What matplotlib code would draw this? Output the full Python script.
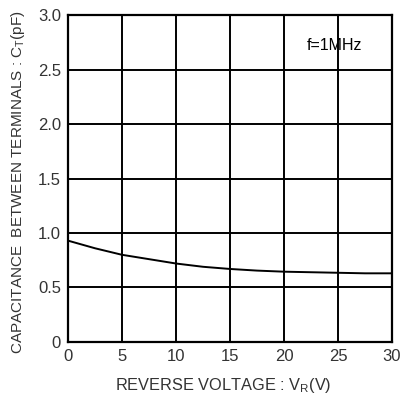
import matplotlib.pyplot as plt

# Datos
voltaje = [0, 2.5, 5, 7.5, 10, 12.5, 15, 17.5, 20, 22.5, 25, 27.5, 30]
capacitancia = [0.93, 0.86, 0.80, 0.76, 0.72, 0.69, 0.67, 0.655, 0.645, 0.64, 0.635, 0.63, 0.63]

x_ticks = [0, 5, 10, 15, 20, 25, 30]
x_labels = ["0", "5", "10", "15", "20", "25", "30"]
y_ticks = [0, 0.5, 1.0, 1.5, 2.0, 2.5, 3.0]
y_labels = ["0", "0.5", "1.0", "1.5", "2.0", "2.5", "3.0"]

plt.rcParams['font.family'] = ['Liberation Sans', 'DejaVu Sans']
color_texto = '#333333'

fig = plt.figure(figsize=(4, 3.99), dpi=100)
ax = fig.add_axes([0.17, 0.143, 0.81, 0.819])

ax.plot(voltaje, capacitancia, color='black', linewidth=1.4)

ax.set_xlim(0, 30)
ax.set_ylim(0, 3.0)
ax.set_xticks(x_ticks)
ax.set_xticklabels(x_labels)
ax.set_yticks(y_ticks)
ax.set_yticklabels(y_labels)
ax.tick_params(length=0, labelsize=12, labelcolor=color_texto, pad=5)
ax.grid(True, color='black', linewidth=1.4)
for lado in ax.spines.values():
    lado.set_linewidth(1.6)

ax.set_xlabel("REVERSE VOLTAGE : V$_\\mathregular{R}$(V)", fontsize=11.8, color=color_texto)
ax.xaxis.set_label_coords(0.48, -0.105)
ax.set_ylabel("CAPACITANCE  BETWEEN TERMINALS : C$_\\mathregular{T}$(pF)", fontsize=11, color=color_texto)
ax.yaxis.set_label_coords(-0.128, 0.49)

ax.text(24.7, 2.72, "f=1MHz", fontsize=11.5, ha='center', va='center', color='black')

fig.savefig("out.png", dpi=100)
